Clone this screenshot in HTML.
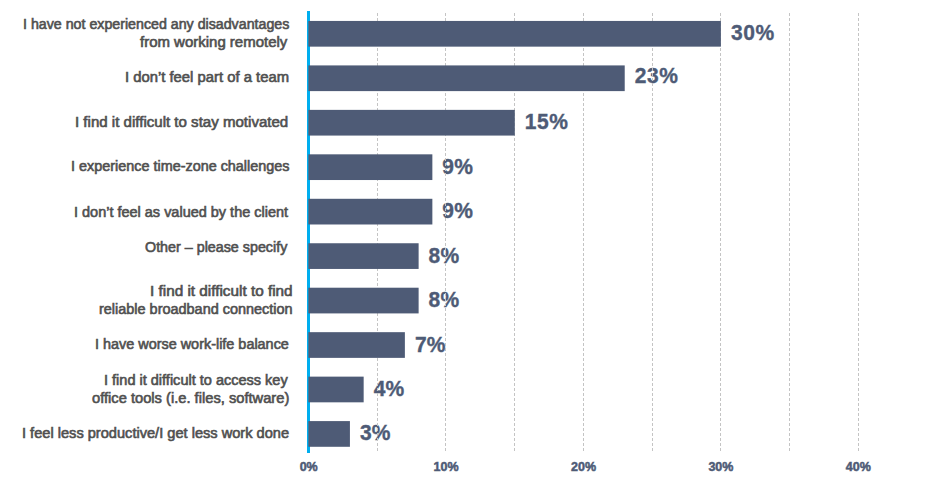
<!DOCTYPE html>
<html><head><meta charset="utf-8"><style>
html,body{margin:0;padding:0;background:#fff;}
body{width:946px;height:491px;position:relative;overflow:hidden;font-family:"Liberation Sans",sans-serif;}
.l{position:absolute;white-space:pre;color:#505050;font-size:14px;font-weight:normal;-webkit-text-stroke:0.6px #505050;line-height:1;transform-origin:0 0;}
.v{position:absolute;white-space:pre;color:#4e5b76;font-weight:bold;font-size:21px;line-height:1;transform-origin:0 0;transform:scaleY(1.09);letter-spacing:0.6px;-webkit-text-stroke:0.35px #4e5b76;}
.t{position:absolute;white-space:pre;color:#4e5b76;font-weight:bold;font-size:12.5px;line-height:1;transform-origin:0 0;-webkit-text-stroke:0.5px #4e5b76;}
svg{position:absolute;left:0;top:0;}
</style></head><body>

<div class="v" style="left:730.90px;top:20.35px;">30%</div>
<div class="v" style="left:634.72px;top:63.31px;">23%</div>
<div class="v" style="left:524.80px;top:109.27px;">15%</div>
<div class="v" style="left:442.36px;top:153.73px;letter-spacing:0.2px;">9%</div>
<div class="v" style="left:442.36px;top:198.19px;letter-spacing:0.2px;">9%</div>
<div class="v" style="left:428.62px;top:242.65px;letter-spacing:0.2px;">8%</div>
<div class="v" style="left:428.62px;top:287.11px;letter-spacing:0.2px;">8%</div>
<div class="v" style="left:414.88px;top:331.57px;letter-spacing:0.2px;">7%</div>
<div class="v" style="left:373.66px;top:376.03px;letter-spacing:0.2px;">4%</div>
<div class="v" style="left:359.92px;top:420.49px;letter-spacing:0.2px;">3%</div>
<div class="t" style="left:288.70px;width:40px;text-align:center;top:460.7px">0%</div>
<div class="t" style="left:426.10px;width:40px;text-align:center;top:460.7px">10%</div>
<div class="t" style="left:563.50px;width:40px;text-align:center;top:460.7px">20%</div>
<div class="t" style="left:700.90px;width:40px;text-align:center;top:460.7px">30%</div>
<div class="t" style="left:838.30px;width:40px;text-align:center;top:460.7px">40%</div>
<div class="l" style="left:22.98px;top:17.00px;transform:scaleX(1.0153)">I have not experienced any disadvantages</div>
<div class="l" style="left:140.40px;top:35.00px;transform:scaleX(1.0696)">from working remotely</div>
<div class="l" style="left:124.94px;top:70.00px;transform:scaleX(1.0588)">I don’t feel part of a team</div>
<div class="l" style="left:74.92px;top:115.00px;transform:scaleX(1.0761)">I find it difficult to stay motivated</div>
<div class="l" style="left:70.97px;top:159.00px;transform:scaleX(1.0284)">I experience time-zone challenges</div>
<div class="l" style="left:73.97px;top:205.00px;transform:scaleX(1.0340)">I don’t feel as valued by the client</div>
<div class="l" style="left:144.98px;top:240.00px;transform:scaleX(1.0217)">Other – please specify</div>
<div class="l" style="left:149.91px;top:284.00px;transform:scaleX(1.0930)">I find it difficult to find</div>
<div class="l" style="left:98.97px;top:302.00px;transform:scaleX(1.0323)">reliable broadband connection</div>
<div class="l" style="left:94.97px;top:337.00px;transform:scaleX(1.0294)">I have worse work-life balance</div>
<div class="l" style="left:103.96px;top:373.00px;transform:scaleX(1.0369)">I find it difficult to access key</div>
<div class="l" style="left:92.30px;top:391.00px;transform:scaleX(1.0492)">office tools (i.e. files, software)</div>
<div class="l" style="left:21.96px;top:426.00px;transform:scaleX(1.0431)">I feel less productive/I get less work done</div>
<svg width="946" height="491" viewBox="0 0 946 491">
<line x1="377.5" y1="13" x2="377.5" y2="451" stroke="#c4c4c4" stroke-width="1" stroke-dasharray="3 2"/>
<line x1="445.5" y1="13" x2="445.5" y2="451" stroke="#c4c4c4" stroke-width="1" stroke-dasharray="3 2"/>
<line x1="514.5" y1="13" x2="514.5" y2="451" stroke="#c4c4c4" stroke-width="1" stroke-dasharray="3 2"/>
<line x1="583.5" y1="13" x2="583.5" y2="451" stroke="#c4c4c4" stroke-width="1" stroke-dasharray="3 2"/>
<line x1="652.5" y1="13" x2="652.5" y2="451" stroke="#c4c4c4" stroke-width="1" stroke-dasharray="3 2"/>
<line x1="720.5" y1="13" x2="720.5" y2="451" stroke="#c4c4c4" stroke-width="1" stroke-dasharray="3 2"/>
<line x1="789.5" y1="13" x2="789.5" y2="451" stroke="#c4c4c4" stroke-width="1" stroke-dasharray="3 2"/>
<line x1="858.5" y1="13" x2="858.5" y2="451" stroke="#c4c4c4" stroke-width="1" stroke-dasharray="3 2"/>
<rect x="307" y="11" width="3" height="442" fill="#00aeef"/>
<rect x="308.4" y="20.95" width="412.50" height="25.7" fill="#4e5b76"/>
<rect x="308.4" y="65.41" width="316.32" height="25.7" fill="#4e5b76"/>
<rect x="308.4" y="109.87" width="206.40" height="25.7" fill="#4e5b76"/>
<rect x="308.4" y="154.33" width="123.96" height="25.7" fill="#4e5b76"/>
<rect x="308.4" y="198.79" width="123.96" height="25.7" fill="#4e5b76"/>
<rect x="308.4" y="243.25" width="110.22" height="25.7" fill="#4e5b76"/>
<rect x="308.4" y="287.71" width="110.22" height="25.7" fill="#4e5b76"/>
<rect x="308.4" y="332.17" width="96.48" height="25.7" fill="#4e5b76"/>
<rect x="308.4" y="376.63" width="55.26" height="25.7" fill="#4e5b76"/>
<rect x="308.4" y="421.09" width="41.52" height="25.7" fill="#4e5b76"/>
</svg>
</body></html>
